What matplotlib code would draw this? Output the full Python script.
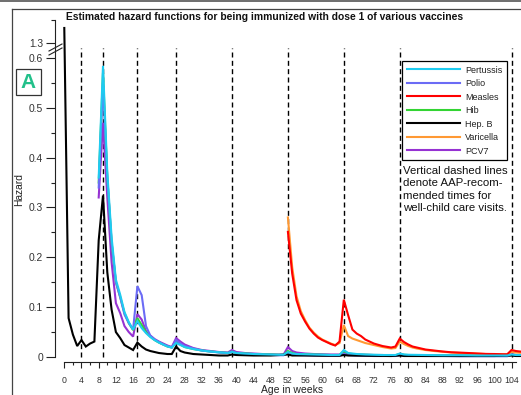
"""
Estimated hazard functions for dose 1 of various vaccines (panel A).
Broken y axis: 0..0.6 linear, squeezed gap up to 1.3.
"""

import numpy as np
import matplotlib
matplotlib.use("Agg")
import matplotlib.pyplot as plt
from matplotlib.lines import Line2D
from matplotlib.patches import Rectangle
from matplotlib.ticker import FixedLocator, FixedFormatter

plt.rcParams["font.family"] = ["Liberation Sans", "DejaVu Sans"]

# ─── Data ────────────────────────────────────────────────────────────────────
# weeks shared by the four infant-series vaccines
weeks_infant = [8, 9, 10, 11, 12, 13, 14, 15, 16, 17, 18, 19, 20, 21, 22, 23, 24, 25,
                26, 27, 28, 30, 32, 34, 36, 38, 39, 40, 42, 44, 46, 48, 50, 51,
                52, 53, 54, 56, 58, 60, 62, 64, 65, 66, 68, 70, 72, 74, 76, 77,
                78, 79, 80, 84, 88, 92, 96, 100, 103, 104, 105, 106]

pertussis = [0.36, 0.584, 0.37, 0.24, 0.155, 0.125, 0.09, 0.07, 0.055, 0.072, 0.058,
             0.048, 0.040, 0.034, 0.029, 0.025, 0.021, 0.019, 0.028, 0.024, 0.020,
             0.016, 0.013, 0.011, 0.0095, 0.008, 0.010, 0.008,
             0.007, 0.006, 0.0055, 0.005, 0.0045, 0.0045,
             0.010, 0.007, 0.006, 0.0055, 0.005, 0.0045, 0.004, 0.004,
             0.014, 0.008, 0.006, 0.005, 0.0045, 0.004, 0.004, 0.004,
             0.007, 0.005, 0.0045, 0.004, 0.0035, 0.0035, 0.003, 0.003, 0.003,
             0.005, 0.004, 0.004]

polio = [0.34, 0.55, 0.36, 0.23, 0.15, 0.12, 0.085, 0.068, 0.055, 0.142, 0.124,
         0.062, 0.043, 0.035, 0.030, 0.025, 0.022, 0.019, 0.034, 0.027, 0.022,
         0.017, 0.013, 0.011, 0.009, 0.008, 0.011, 0.008,
         0.006, 0.005, 0.0045, 0.004, 0.0035, 0.0035,
         0.008, 0.005, 0.004, 0.0035, 0.003, 0.003, 0.0025, 0.0025,
         0.006, 0.004, 0.003, 0.0025, 0.002, 0.002, 0.002, 0.002,
         0.004, 0.003, 0.0025, 0.002, 0.002, 0.0015, 0.0015, 0.0015, 0.0015,
         0.004, 0.003, 0.003]

hib = [0.35, 0.57, 0.36, 0.23, 0.15, 0.12, 0.088, 0.068, 0.054, 0.078, 0.064,
       0.050, 0.041, 0.034, 0.029, 0.025, 0.021, 0.019, 0.030, 0.025, 0.020,
       0.016, 0.013, 0.011, 0.0095, 0.008, 0.011, 0.008,
       0.007, 0.006, 0.0055, 0.005, 0.0045, 0.0045,
       0.012, 0.008, 0.006, 0.0055, 0.005, 0.0045, 0.004, 0.004,
       0.012, 0.007, 0.005, 0.0045, 0.004, 0.004, 0.0035, 0.0035,
       0.006, 0.0045, 0.004, 0.0035, 0.003, 0.003, 0.003, 0.0025, 0.0025,
       0.004, 0.0035, 0.0035]

pcv7 = [0.32, 0.47, 0.32, 0.19, 0.108, 0.088, 0.062, 0.050, 0.041, 0.086, 0.075,
        0.052, 0.043, 0.036, 0.031, 0.027, 0.023, 0.020, 0.038, 0.031, 0.025,
        0.018, 0.014, 0.012, 0.010, 0.009, 0.014, 0.010,
        0.008, 0.007, 0.006, 0.0055, 0.005, 0.005,
        0.020, 0.012, 0.009, 0.007, 0.006, 0.0055, 0.005, 0.005,
        0.008, 0.006, 0.005, 0.0045, 0.004, 0.004, 0.0035, 0.0035,
        0.005, 0.004, 0.0035, 0.003, 0.003, 0.003, 0.0025, 0.0025, 0.0025,
        0.006, 0.004, 0.004]

weeks_hepb = list(range(0, 29)) + [30, 32, 34, 36, 38, 39, 40, 44, 48, 52, 53, 56, 60,
                                   64, 65, 66, 70, 76, 78, 79, 84, 92, 100, 104, 105, 106]
hepb = [1.33, 0.078, 0.045, 0.022, 0.034, 0.021, 0.027, 0.031, 0.234, 0.324,
        0.17, 0.095, 0.05, 0.038, 0.024, 0.019, 0.014, 0.029, 0.021, 0.015,
        0.012, 0.010, 0.008, 0.007, 0.006, 0.006, 0.021, 0.012, 0.009,
        0.006, 0.005, 0.004, 0.003, 0.003, 0.005, 0.004, 0.003, 0.003, 0.005,
        0.003, 0.003, 0.0025, 0.0025, 0.004, 0.003, 0.0025, 0.002, 0.003, 0.002,
        0.002, 0.002, 0.002, 0.003, 0.002, 0.002]

weeks_toddler = list(range(52, 71)) + [72, 74, 76, 77, 78, 79, 80, 81, 82, 84, 86, 88,
                                       90, 92, 94, 96, 98, 100, 102, 103, 104, 105, 106]
measles = [0.251, 0.167, 0.114, 0.087, 0.071, 0.057, 0.047, 0.039, 0.034, 0.030,
           0.026, 0.023, 0.031, 0.115, 0.084, 0.055, 0.047, 0.042, 0.035,
           0.027, 0.022, 0.019, 0.021, 0.037, 0.030, 0.025, 0.021, 0.019, 0.015,
           0.013, 0.011, 0.0095, 0.0088, 0.008, 0.007, 0.0062, 0.006, 0.0055,
           0.0055, 0.014, 0.012, 0.011]
varicella = [0.28, 0.18, 0.122, 0.092, 0.074, 0.059, 0.049, 0.041, 0.035, 0.031,
             0.027, 0.024, 0.028, 0.064, 0.042, 0.037, 0.034, 0.031, 0.028,
             0.024, 0.020, 0.017, 0.018, 0.031, 0.026, 0.022, 0.019, 0.017, 0.014,
             0.012, 0.0105, 0.009, 0.008, 0.0075, 0.0068, 0.006, 0.0058, 0.0053,
             0.0052, 0.010, 0.009, 0.0085]

# AAP well-child visits (weeks)
visit_weeks = [4, 9, 17, 26, 39, 52, 65, 78, 104]

y_major = [0, 0.1, 0.2, 0.3, 0.4, 0.5, 0.6, 1.3]
y_major_labels = ["0", "0.1", "0.2", "0.3", "0.4", "0.5", "0.6", "1.3"]

# ─── Broken y scale ──────────────────────────────────────────────────────────
SQUEEZE = 0.03 / 0.7


def fwd(y):
    y = np.asarray(y, dtype=float)
    return np.where(y <= 0.6, y,
                    np.where(y <= 1.3, 0.6 + (y - 0.6) * SQUEEZE, 0.63 + (y - 1.3)))


def inv(v):
    v = np.asarray(v, dtype=float)
    return np.where(v <= 0.6, v,
                    np.where(v <= 0.63, 0.6 + (v - 0.6) / SQUEEZE, 1.3 + (v - 0.63)))


# ─── Figure ──────────────────────────────────────────────────────────────────
W, H = 521, 395
fig = plt.figure(figsize=(W / 100, H / 100), dpi=100)


def px(x, y):
    return x / W, 1 - y / H


ax = fig.add_axes([63 / W, (H - 359) / H, (W - 63) / W, 339 / H])
ax.set_yscale("function", functions=(fwd, inv))
ax.set_xlim(-0.3, 106.2)
ax.set_ylim(-0.004, 1.346)

AXC = "#222222"
for v in visit_weeks:
    ax.axvline(v, ymin=0.006, ymax=0.917, color="black", lw=1.0,
               dashes=(3.6, 2.4), zorder=1)

series = [
    ("PCV7", weeks_infant, pcv7, "#9632D2"),
    ("Hib", weeks_infant, hib, "#33D433"),
    ("Polio", weeks_infant, polio, "#6B6BF5"),
    ("Hep. B", weeks_hepb, hepb, "black"),
    ("Varicella", weeks_toddler, varicella, "#FF9933"),
    ("Measles", weeks_toddler, measles, "#FF0000"),
    ("Pertussis", weeks_infant, pertussis, "#1ECBF0"),
]
handles = {}
for name, wk, vals, col in series:
    line, = ax.plot(wk, vals, color=col, lw=1.5, zorder=3, clip_on=False,
                    solid_joinstyle="miter")
    handles[name] = line

# ─── Axes styling ────────────────────────────────────────────────────────────
for side in ("top", "right"):
    ax.spines[side].set_visible(False)
ax.spines["left"].set_position(("outward", 5.8))
ax.spines["bottom"].set_position(("outward", 2.2))
ax.spines["left"].set_bounds(0, 1.346)
ax.spines["bottom"].set_bounds(0, 105)
for side in ("left", "bottom"):
    ax.spines[side].set_color(AXC)
    ax.spines[side].set_linewidth(0.8)

ax.yaxis.set_major_locator(FixedLocator(y_major))
ax.yaxis.set_major_formatter(FixedFormatter(y_major_labels))
ax.yaxis.set_minor_locator(FixedLocator(list(np.arange(0.05, 0.6, 0.1)) + [1.346]))
ax.set_xticks(np.arange(0, 105, 4))
ax.set_xticks(np.arange(0, 105, 2), minor=True)

ax.tick_params(axis="y", which="major", length=6.5, width=0.8, color=AXC,
               labelsize=7.4, pad=2, labelcolor="#333333")
ax.tick_params(axis="y", which="minor", length=3.2, width=0.8, color=AXC)
ax.tick_params(axis="x", which="major", length=4.2, width=0.8, color=AXC,
               labelsize=6.3, pad=5.5, labelcolor="#333333")
ax.tick_params(axis="x", which="minor", length=2.4, width=0.8, color=AXC)

ax.set_xlabel("Age in weeks", fontsize=7.5, labelpad=0.0, color="#222222")
fig.text(*px(19, 189), "Hazard", rotation=90, ha="center", va="center",
         fontsize=7.4, color="#222222")

fig.text(*px(265, 17), "Estimated hazard functions for being immunized with dose 1 "
         "of various vaccines", ha="center", va="center", fontsize=7.35,
         fontweight="bold", color="#111111")

# break marks on y axis
for dy in (0, 4):
    x0, y0 = px(49, 55 - dy)
    x1, y1 = px(62, 48 - dy)
    fig.add_artist(Line2D([x0, x1], [y0, y1], color=AXC, lw=0.8))

# panel letter
bx0, by0 = px(16, 95)
bx1, by1 = px(41, 69)
fig.add_artist(Rectangle((bx0, by0), bx1 - bx0, by1 - by0, transform=fig.transFigure,
                         fill=False, ec="#333333", lw=0.9))
fig.text(*px(28.5, 82.5), "A", ha="center", va="center", fontsize=15,
         fontweight="bold", color="#22C08A")

# figure frame
fig.add_artist(Line2D([0, 1], [1 - 0.8 / H] * 2, color="#555555", lw=1.2))
fig.add_artist(Line2D([12 / W, 1], [1 - 9 / H] * 2, color="#444444", lw=0.9))
fig.add_artist(Line2D([12 / W, 12 / W], [0, 1 - 9 / H], color="#444444", lw=0.9))

# legend
order = ["Pertussis", "Polio", "Measles", "Hib", "Hep. B", "Varicella", "PCV7"]
leg_handles = [Line2D([], [], color=handles[n].get_color(), lw=1.5) for n in order]
leg = ax.legend(leg_handles, order, loc="upper left", bbox_to_anchor=px(402, 61),
                bbox_transform=fig.transFigure, fontsize=6.5, handlelength=5.9,
                handletextpad=0.6, labelspacing=0.5, borderpad=0.5,
                borderaxespad=0, fancybox=False, framealpha=1)
leg.get_frame().set_edgecolor("black")
leg.get_frame().set_linewidth(0.9)
for t in leg.get_texts():
    t.set_color("#222222")

fig.text(*px(403, 166), "Vertical dashed lines\ndenote AAP-recom-\nmended times for\n"
         "well-child care visits.", ha="left", va="top", fontsize=8.2,
         linespacing=1.3, color="#111111")

fig.savefig("out.png", dpi=100)
